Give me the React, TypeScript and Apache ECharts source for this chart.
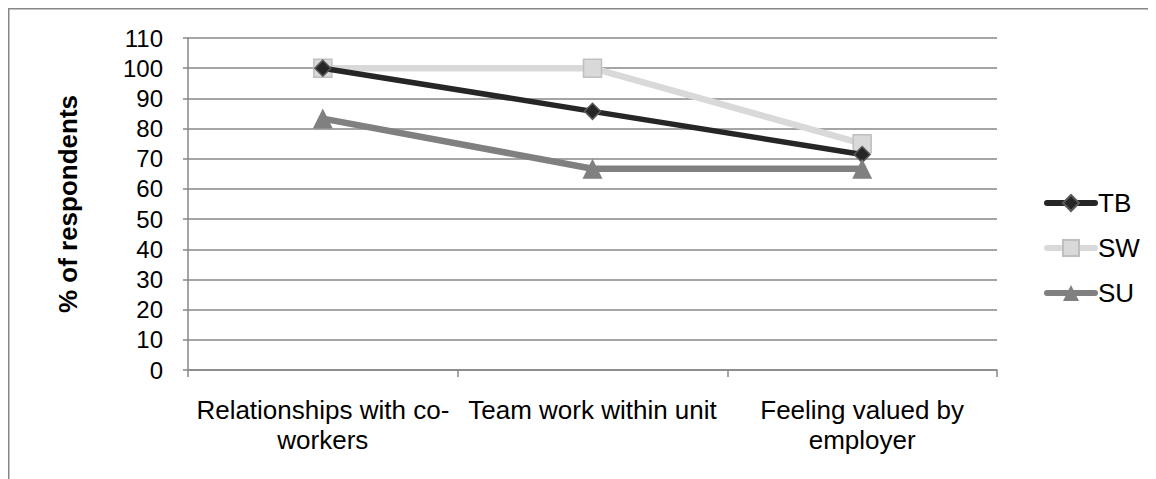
import React, { useEffect, useRef } from "react";
import * as echarts from "echarts";

const categories = [
  "Relationships with co-\nworkers",
  "Team work within unit",
  "Feeling valued by\nemployer",
];
const yTicksMax = 110;
const tbValues = [100, 85.7, 71.4];
const swValues = [100, 100, 75];
const suValues = [83.3, 66.7, 66.7];

const FONT = "'Liberation Sans', Arial, sans-serif";

export default function App() {
  const ref = useRef<HTMLDivElement>(null);
  useEffect(() => {
    document.body.style.overflow = "hidden";
    const chart = echarts.init(ref.current!, undefined, { renderer: "svg" });
    chart.setOption({
      animation: false,
      textStyle: { fontFamily: FONT },
      graphic: [
        {
          type: "rect",
          shape: { x: 0.75, y: 0.75, width: 3000, height: 3000 },
          style: { fill: "none", stroke: "#878787", lineWidth: 1.5 },
        },
      ],
      grid: { left: 180, top: 30, width: 809, height: 332 },
      legend: {
        orient: "vertical",
        left: 1031,
        top: 177,
        itemWidth: 48,
        itemHeight: 20,
        itemGap: 19,
        textStyle: { fontSize: 26, color: "#000", fontFamily: FONT, padding: [0, 0, 0, -2] },
        data: [
          { name: "TB", lineStyle: { width: 6, cap: "round" } },
          { name: "SW", lineStyle: { width: 6, cap: "round" } },
          { name: "SU", lineStyle: { width: 6, cap: "round" } },
        ],
      },
      xAxis: {
        type: "category",
        data: categories,
        boundaryGap: true,
        axisLine: { lineStyle: { color: "#878787", width: 1.5 } },
        axisTick: { show: true, length: 7, lineStyle: { color: "#878787", width: 1.5 } },
        axisLabel: {
          color: "#000",
          fontSize: 26,
          lineHeight: 30,
          margin: 25,
          fontFamily: FONT,
          interval: 0,
        },
      },
      yAxis: {
        type: "value",
        min: 0,
        max: yTicksMax,
        interval: 10,
        name: "% of respondents",
        nameLocation: "middle",
        nameRotate: 90,
        nameGap: 107,
        nameTextStyle: { fontSize: 26, fontWeight: "bold", color: "#000", fontFamily: FONT },
        axisLine: { show: true, lineStyle: { color: "#878787", width: 1.5 } },
        axisTick: { show: true, length: 5, lineStyle: { color: "#878787", width: 1.5 } },
        axisLabel: { color: "#000", fontSize: 24, margin: 25, fontFamily: FONT },
        splitLine: { lineStyle: { color: "#878787", width: 1.5 } },
      },
      series: [
        {
          name: "TB",
          type: "line",
          data: tbValues,
          z: 3,
          symbol: "diamond",
          symbolSize: 16,
          lineStyle: { color: "#262626", width: 5.5, cap: "round" },
          itemStyle: { color: "#262626", borderColor: "#595959", borderWidth: 1.5 },
        },
        {
          name: "SW",
          type: "line",
          data: swValues,
          z: 2,
          symbol: "rect",
          symbolSize: 18,
          lineStyle: { color: "#d9d9d9", width: 6.5, cap: "round" },
          itemStyle: { color: "#d9d9d9", borderColor: "#bfbfbf", borderWidth: 1.5 },
        },
        {
          name: "SU",
          type: "line",
          data: suValues,
          z: 4,
          symbol: "triangle",
          symbolSize: 20,
          lineStyle: { color: "#808080", width: 6.5, cap: "round" },
          itemStyle: { color: "#808080" },
        },
      ],
    });
    return () => chart.dispose();
  }, []);
  return <div ref={ref} style={{ width: 1148, height: 471 }} />;
}
